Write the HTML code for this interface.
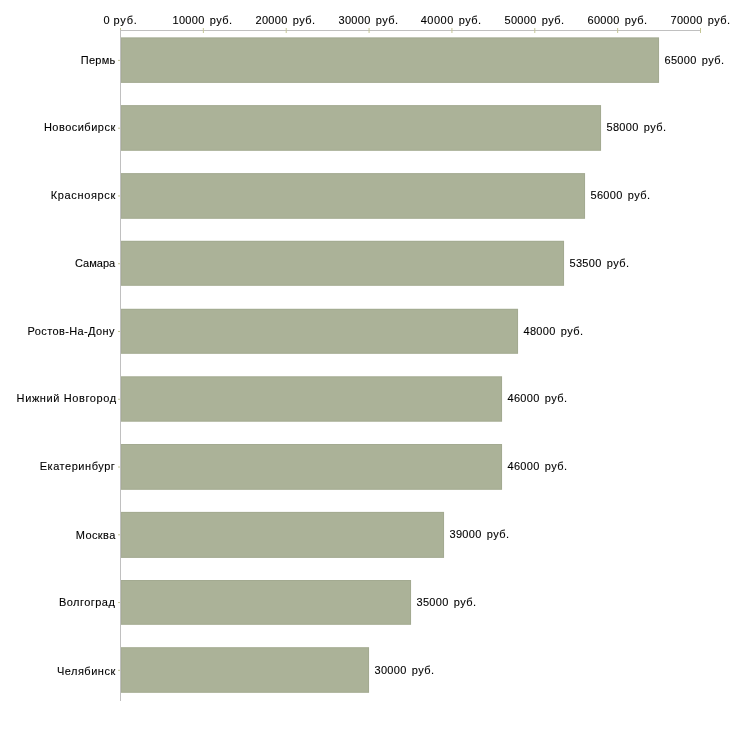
<!DOCTYPE html>
<html><head><meta charset="utf-8"><title>chart</title>
<style>html,body{margin:0;padding:0;background:#fff}svg{display:block;will-change:transform}text{font-family:"Liberation Sans",sans-serif;font-size:11px;fill:#000;stroke:#000;stroke-width:0.1px}</style></head><body>
<svg width="730" height="730" viewBox="0 0 730 730">
<rect width="730" height="730" fill="#fff"/>
<rect x="120" y="30" width="581" height="1" fill="#c0c0c0"/>
<rect x="120.00" y="28" width="1" height="5" fill="#c4c696"/>
<rect x="202.86" y="28" width="1" height="5" fill="#c4c696"/>
<rect x="285.71" y="28" width="1" height="5" fill="#c4c696"/>
<rect x="368.57" y="28" width="1" height="5" fill="#c4c696"/>
<rect x="451.43" y="28" width="1" height="5" fill="#c4c696"/>
<rect x="534.29" y="28" width="1" height="5" fill="#c4c696"/>
<rect x="617.14" y="28" width="1" height="5" fill="#c4c696"/>
<rect x="700.00" y="28" width="1" height="5" fill="#c4c696"/>
<text x="103.40" y="24.0">0</text>
<text class="c" x="113.60" y="24.0" textLength="23.30" lengthAdjust="spacing">руб.</text>
<text x="172.50" y="24.0" textLength="31.75" lengthAdjust="spacing">10000</text>
<text class="c" x="209.70" y="24.0" textLength="22.35" lengthAdjust="spacing">руб.</text>
<text x="255.50" y="24.0" textLength="31.75" lengthAdjust="spacing">20000</text>
<text class="c" x="292.70" y="24.0" textLength="22.35" lengthAdjust="spacing">руб.</text>
<text x="338.50" y="24.0" textLength="31.75" lengthAdjust="spacing">30000</text>
<text class="c" x="375.70" y="24.0" textLength="22.35" lengthAdjust="spacing">руб.</text>
<text x="420.70" y="24.0" textLength="32.55" lengthAdjust="spacing">40000</text>
<text class="c" x="458.70" y="24.0" textLength="22.35" lengthAdjust="spacing">руб.</text>
<text x="504.50" y="24.0" textLength="31.75" lengthAdjust="spacing">50000</text>
<text class="c" x="541.70" y="24.0" textLength="22.35" lengthAdjust="spacing">руб.</text>
<text x="587.50" y="24.0" textLength="31.75" lengthAdjust="spacing">60000</text>
<text class="c" x="624.70" y="24.0" textLength="22.35" lengthAdjust="spacing">руб.</text>
<text x="670.50" y="24.0" textLength="31.75" lengthAdjust="spacing">70000</text>
<text class="c" x="707.70" y="24.0" textLength="22.35" lengthAdjust="spacing">руб.</text>
<rect x="120.5" y="37.40" width="538.55" height="45.50" fill="#abb298"/>
<rect x="121" y="37.90" width="537.55" height="44.50" fill="none" stroke="#78826a" stroke-opacity="0.15" stroke-width="1"/>
<rect x="118" y="59.90" width="2" height="1" fill="#c4c696"/>
<text class="c" x="80.75" y="64.0" textLength="34.55" lengthAdjust="spacing">Пермь</text>
<text x="664.55" y="64.0" textLength="31.75" lengthAdjust="spacing">65000</text>
<text class="c" x="701.75" y="64.0" textLength="22.35" lengthAdjust="spacing">руб.</text>
<rect x="120.5" y="105.10" width="480.55" height="45.70" fill="#abb298"/>
<rect x="121" y="105.60" width="479.55" height="44.70" fill="none" stroke="#78826a" stroke-opacity="0.15" stroke-width="1"/>
<rect x="118" y="127.67" width="2" height="1" fill="#c4c696"/>
<text class="c" x="43.90" y="131.0" textLength="71.30" lengthAdjust="spacing">Новосибирск</text>
<text x="606.55" y="131.0" textLength="31.75" lengthAdjust="spacing">58000</text>
<text class="c" x="643.75" y="131.0" textLength="22.35" lengthAdjust="spacing">руб.</text>
<rect x="120.5" y="173.10" width="464.55" height="45.70" fill="#abb298"/>
<rect x="121" y="173.60" width="463.55" height="44.70" fill="none" stroke="#78826a" stroke-opacity="0.15" stroke-width="1"/>
<rect x="118" y="195.44" width="2" height="1" fill="#c4c696"/>
<text class="c" x="50.70" y="199.0" textLength="64.50" lengthAdjust="spacing">Красноярск</text>
<text x="590.55" y="199.0" textLength="31.75" lengthAdjust="spacing">56000</text>
<text class="c" x="627.75" y="199.0" textLength="22.35" lengthAdjust="spacing">руб.</text>
<rect x="120.5" y="240.80" width="443.55" height="45.00" fill="#abb298"/>
<rect x="121" y="241.30" width="442.55" height="44.00" fill="none" stroke="#78826a" stroke-opacity="0.15" stroke-width="1"/>
<rect x="118" y="263.21" width="2" height="1" fill="#c4c696"/>
<text class="c" x="74.90" y="267.0" textLength="40.30" lengthAdjust="spacing">Самара</text>
<text x="569.55" y="267.0" textLength="31.75" lengthAdjust="spacing">53500</text>
<text class="c" x="606.75" y="267.0" textLength="22.35" lengthAdjust="spacing">руб.</text>
<rect x="120.5" y="308.80" width="397.55" height="45.00" fill="#abb298"/>
<rect x="121" y="309.30" width="396.55" height="44.00" fill="none" stroke="#78826a" stroke-opacity="0.15" stroke-width="1"/>
<rect x="118" y="330.98" width="2" height="1" fill="#c4c696"/>
<text class="c" x="27.60" y="335.0" textLength="86.90" lengthAdjust="spacing">Ростов-На-Дону</text>
<text x="523.55" y="335.0" textLength="31.75" lengthAdjust="spacing">48000</text>
<text class="c" x="560.75" y="335.0" textLength="22.35" lengthAdjust="spacing">руб.</text>
<rect x="120.5" y="376.30" width="381.55" height="45.40" fill="#abb298"/>
<rect x="121" y="376.80" width="380.55" height="44.40" fill="none" stroke="#78826a" stroke-opacity="0.15" stroke-width="1"/>
<rect x="118" y="398.75" width="2" height="1" fill="#c4c696"/>
<text class="c" x="16.60" y="402.0" textLength="99.60" lengthAdjust="spacing">Нижний Новгород</text>
<text x="507.55" y="402.0" textLength="31.75" lengthAdjust="spacing">46000</text>
<text class="c" x="544.75" y="402.0" textLength="22.35" lengthAdjust="spacing">руб.</text>
<rect x="120.5" y="444.00" width="381.55" height="45.80" fill="#abb298"/>
<rect x="121" y="444.50" width="380.55" height="44.80" fill="none" stroke="#78826a" stroke-opacity="0.15" stroke-width="1"/>
<rect x="118" y="466.52" width="2" height="1" fill="#c4c696"/>
<text class="c" x="39.75" y="470.0" textLength="75.05" lengthAdjust="spacing">Екатеринбург</text>
<text x="507.55" y="470.0" textLength="31.75" lengthAdjust="spacing">46000</text>
<text class="c" x="544.75" y="470.0" textLength="22.35" lengthAdjust="spacing">руб.</text>
<rect x="120.5" y="511.90" width="323.55" height="46.00" fill="#abb298"/>
<rect x="121" y="512.40" width="322.55" height="45.00" fill="none" stroke="#78826a" stroke-opacity="0.15" stroke-width="1"/>
<rect x="118" y="534.29" width="2" height="1" fill="#c4c696"/>
<text class="c" x="75.70" y="539.0" textLength="39.60" lengthAdjust="spacing">Москва</text>
<text x="449.55" y="538.0" textLength="31.75" lengthAdjust="spacing">39000</text>
<text class="c" x="486.75" y="538.0" textLength="22.35" lengthAdjust="spacing">руб.</text>
<rect x="120.5" y="580.00" width="290.55" height="44.80" fill="#abb298"/>
<rect x="121" y="580.50" width="289.55" height="43.80" fill="none" stroke="#78826a" stroke-opacity="0.15" stroke-width="1"/>
<rect x="118" y="602.06" width="2" height="1" fill="#c4c696"/>
<text class="c" x="58.90" y="606.0" textLength="55.90" lengthAdjust="spacing">Волгоград</text>
<text x="416.55" y="606.0" textLength="31.75" lengthAdjust="spacing">35000</text>
<text class="c" x="453.75" y="606.0" textLength="22.35" lengthAdjust="spacing">руб.</text>
<rect x="120.5" y="647.20" width="248.55" height="45.60" fill="#abb298"/>
<rect x="121" y="647.70" width="247.55" height="44.60" fill="none" stroke="#78826a" stroke-opacity="0.15" stroke-width="1"/>
<rect x="118" y="669.83" width="2" height="1" fill="#c4c696"/>
<text class="c" x="56.90" y="675.0" textLength="58.30" lengthAdjust="spacing">Челябинск</text>
<text x="374.55" y="674.0" textLength="31.75" lengthAdjust="spacing">30000</text>
<text class="c" x="411.75" y="674.0" textLength="22.35" lengthAdjust="spacing">руб.</text>
<rect x="120" y="30" width="1" height="671" fill="#c0c0c0"/>
</svg>
</body></html>
